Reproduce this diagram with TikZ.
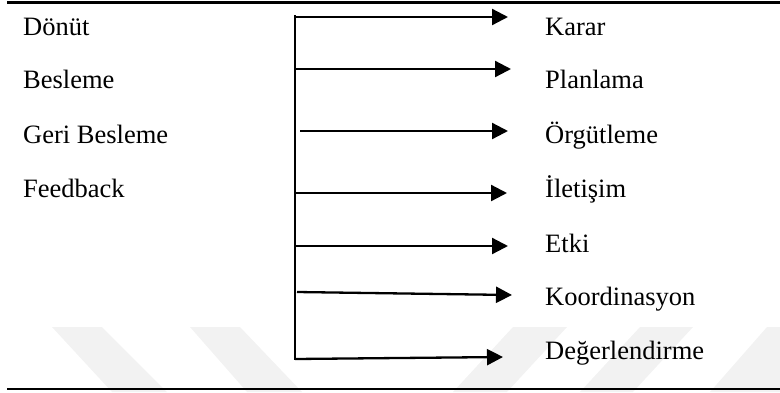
\documentclass[tikz,border=0pt]{standalone}
\usepackage{fontspec}
\setmainfont{Liberation Serif}
\usetikzlibrary{arrows.meta}
\tikzset{
  lbl/.style={anchor=base west, inner sep=0pt, font=\fontsize{26.5}{30}\selectfont},
  rule/.style={line width=2.4pt},
  bus/.style={line width=2.4pt, line cap=rect},
  link/.style={line width=2.3pt, -{Triangle[length=16pt,width=16pt]}},
  stripe/.style={fill=black!5, draw=none}
}
\begin{document}
\begin{tikzpicture}[x=1pt,y=-1pt]
\useasboundingbox (0,0) rectangle (780,392);
% faint watermark stripes
\fill[stripe] (52,327) -- (102,327) -- (167,392) -- (112,392) -- cycle;
\fill[stripe] (190,327) -- (240,327) -- (302,392) -- (247,392) -- cycle;
\fill[stripe] (513,327) -- (567,327) -- (507,392) -- (453,392) -- cycle;
\fill[stripe] (640,327) -- (693,327) -- (633,392) -- (580,392) -- cycle;
\fill[stripe] (767,327) -- (780,327) -- (780,392) -- (710,392) -- cycle;

% horizontal rules
\coordinate (tl) at (7,2.5);
\coordinate (tr) at (780,2.5);
\coordinate (bl) at (7,389);
\coordinate (br) at (780,389);
\draw[rule] (tl) -- (tr);
\draw[rule] (bl) -- (br);

% left column of terms
\node[lbl] (donut) at (23,35) {Dönüt};
\node[lbl] (besleme) at (23,88) {Besleme};
\node[lbl] (geri) at (23,143) {Geri Besleme};
\node[lbl] (feedback) at (23,197) {Feedback};

% right column of functions
\node[lbl] (karar) at (545,35) {Karar};
\node[lbl] (planlama) at (545,88) {Planlama};
\node[lbl] (orgut) at (545,143) {Örgütleme};
\node[lbl] (iletisim) at (545,197) {İletişim};
\node[lbl] (etki) at (545,252) {Etki};
\node[lbl] (koord) at (545,305) {Koordinasyon};
\node[lbl] (deger) at (545,359) {Değerlendirme};

% vertical bus
\coordinate (top) at (295,16);
\coordinate (bot) at (295,359);
\draw[bus] (top) -- (bot);

% arrow start and tip points
\coordinate (s1) at (295,17);  \coordinate (t1) at (508,17);
\coordinate (s2) at (295,69);  \coordinate (t2) at (511,69);
\coordinate (s3) at (300,131); \coordinate (t3) at (508,131);
\coordinate (s4) at (295,193); \coordinate (t4) at (507,193);
\coordinate (s5) at (295,246); \coordinate (t5) at (508,246);
\coordinate (s6) at (297,292); \coordinate (t6) at (512,295);
\coordinate (s7) at (295,359); \coordinate (t7) at (503,357);

\draw[link] (s1) -- (t1);
\draw[link] (s2) -- (t2);
\draw[link] (s3) -- (t3);
\draw[link] (s4) -- (t4);
\draw[link] (s5) -- (t5);
\draw[link] (s6) -- (t6);
\draw[link] (s7) -- (t7);
\end{tikzpicture}
\end{document}
